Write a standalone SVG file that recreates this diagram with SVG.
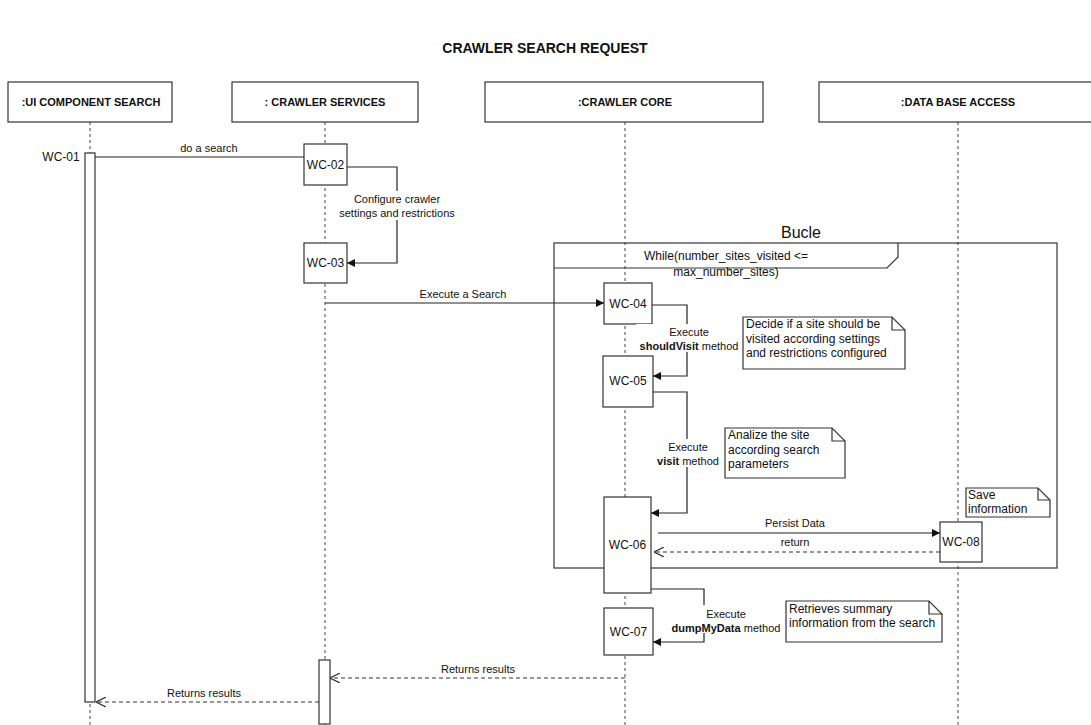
<svg xmlns="http://www.w3.org/2000/svg" width="1091" height="725" viewBox="0 0 1091 725">
  <style>
    text { font-family: "Liberation Sans", Arial, sans-serif; fill: #111; }
    .title { font-size: 14px; font-weight: bold; text-anchor: middle; }
    .hdr { font-size: 11px; font-weight: bold; text-anchor: middle; }
    .box { fill: #fff; stroke: #333; stroke-width: 1.2; }
    .life { fill: none; stroke: #444; stroke-width: 1; stroke-dasharray: 3 3; }
    .msg { fill: none; stroke: #222; stroke-width: 1.2; }
    .ret { fill: none; stroke: #333; stroke-width: 1.1; stroke-dasharray: 4 3; }
    .lbl { font-size: 11px; text-anchor: middle; }
    .act { font-size: 12px; text-anchor: middle; }
    .note { font-size: 12px; }
    .frame { fill: none; stroke: #333; stroke-width: 1.2; }
    .mask { fill: #fff; stroke: none; }
  </style>
  <defs>
    <marker id="fa" viewBox="0 0 10 10" refX="10" refY="5" markerWidth="9" markerHeight="8" markerUnits="userSpaceOnUse" orient="auto">
      <path d="M0,0 L10,5 L0,10 Z" fill="#111"/>
    </marker>
    <marker id="oa" viewBox="0 0 10 10" refX="10" refY="5" markerWidth="10" markerHeight="10" markerUnits="userSpaceOnUse" orient="auto">
      <path d="M0,0 L10,5 L0,10" fill="none" stroke="#333" stroke-width="1.2"/>
    </marker>
  </defs>

  <rect width="1091" height="725" fill="#fff"/>
  <text class="title" x="545" y="53">CRAWLER SEARCH REQUEST</text>

  <!-- lifelines -->
  <g id="lifelines">
    <line class="life" x1="90" y1="122" x2="90" y2="725"/>
    <line class="life" x1="325" y1="122" x2="325" y2="725"/>
    <line class="life" x1="625" y1="122" x2="625" y2="725"/>
    <line class="life" x1="958" y1="122" x2="958" y2="725"/>
  </g>

  <!-- lifeline headers -->
  <g id="ui-component-search">
    <rect class="box" x="8" y="82" width="164" height="40"/>
    <text class="hdr" x="91" y="106">:UI COMPONENT SEARCH</text>
  </g>
  <g id="crawler-services">
    <rect class="box" x="232" y="82" width="186" height="40"/>
    <text class="hdr" x="325" y="106">: CRAWLER SERVICES</text>
  </g>
  <g id="crawler-core">
    <rect class="box" x="485" y="82" width="278" height="40"/>
    <text class="hdr" x="625" y="106">:CRAWLER CORE</text>
  </g>
  <g id="data-base-access">
    <rect class="box" x="819" y="82" width="278" height="40"/>
    <text class="hdr" x="958" y="106">:DATA BASE ACCESS</text>
  </g>

  <!-- loop fragment -->
  <g id="loop-frame">
    <text x="801" y="238" font-size="16" text-anchor="middle">Bucle</text>
    <rect class="frame" x="554" y="243" width="503" height="325"/>
    <path class="frame" d="M554,268 H887 L898,257 V243"/>
    <text x="726" y="260" font-size="12" text-anchor="middle">While(number_sites_visited &lt;=</text>
    <text x="726" y="276" font-size="12" text-anchor="middle">max_number_sites)</text>
  </g>

  <!-- activations -->
  <g id="wc-01">
    <rect class="box" x="85" y="153" width="10" height="549"/>
    <text class="act" x="61" y="161">WC-01</text>
  </g>
  <g id="wc-02">
    <rect class="box" x="304" y="144" width="43" height="41"/>
    <text class="act" x="325.5" y="169">WC-02</text>
  </g>
  <g id="wc-03">
    <rect class="box" x="304" y="243" width="43" height="40"/>
    <text class="act" x="325.5" y="267">WC-03</text>
  </g>
  <g id="wc-04">
    <rect class="box" x="604" y="283" width="48" height="41"/>
    <text class="act" x="628" y="308">WC-04</text>
  </g>
  <g id="wc-05">
    <rect class="box" x="603" y="356" width="50" height="51"/>
    <text class="act" x="628" y="385">WC-05</text>
  </g>
  <g id="wc-06">
    <rect class="box" x="604" y="497" width="47" height="96"/>
    <text class="act" x="627.5" y="549">WC-06</text>
  </g>
  <g id="wc-07">
    <rect class="box" x="604" y="608" width="49" height="47"/>
    <text class="act" x="628.5" y="636">WC-07</text>
  </g>
  <g id="wc-08">
    <rect class="box" x="940" y="522" width="42" height="40"/>
    <text class="act" x="961" y="546">WC-08</text>
  </g>
  <g id="services-return">
    <rect class="box" x="319" y="660" width="11" height="64"/>
  </g>

  <!-- messages -->
  <g id="connectors">
    <path class="msg" d="M95,157 H304"/>
    <text class="lbl" x="209" y="152">do a search</text>

    <path class="msg" d="M347,167 H397 V263 H347" marker-end="url(#fa)"/>
    <rect class="mask" x="342" y="191" width="112" height="29"/>
    <text class="lbl" x="397" y="203">Configure crawler</text>
    <text class="lbl" x="397" y="217">settings and restrictions</text>

    <path class="msg" d="M325,303 H604" marker-end="url(#fa)"/>
    <text class="lbl" x="463" y="298">Execute  a Search</text>

    <path class="msg" d="M652,305 H687 V376 H653" marker-end="url(#fa)"/>
    <rect class="mask" x="636" y="324" width="106" height="28"/>
    <text class="lbl" x="689" y="336">Execute</text>
    <text class="lbl" x="689" y="350"><tspan font-weight="bold">shouldVisit</tspan> method</text>

    <path class="msg" d="M653,392 H687 V513 H651" marker-end="url(#fa)"/>
    <rect class="mask" x="656" y="439" width="66" height="28"/>
    <text class="lbl" x="688" y="451">Execute</text>
    <text class="lbl" x="688" y="465"><tspan font-weight="bold">visit</tspan> method</text>

    <path class="msg" d="M658,533 H940" marker-end="url(#fa)"/>
    <text class="lbl" x="795" y="527">Persist Data</text>
    <path class="ret" d="M940,552 H654" marker-end="url(#oa)"/>
    <text class="lbl" x="795" y="546">return</text>

    <path class="msg" d="M651,589 H704 V642 H653" marker-end="url(#fa)"/>
    <rect class="mask" x="670" y="605" width="112" height="28"/>
    <text class="lbl" x="726" y="618">Execute</text>
    <text class="lbl" x="726" y="632"><tspan font-weight="bold">dumpMyData</tspan> method</text>

    <path class="ret" d="M625,678 H330" marker-end="url(#oa)"/>
    <text class="lbl" x="478" y="673">Returns results</text>
    <path class="ret" d="M319,702 H96" marker-end="url(#oa)"/>
    <text class="lbl" x="204" y="697">Returns results</text>
  </g>

  <!-- notes -->
  <g id="note-should-visit">
    <path class="box" d="M743,317 H892 L905,330 V369 H743 Z"/>
    <path class="frame" d="M892,317 V330 H905"/>
    <text class="note" x="746" y="328">Decide if a site should be</text>
    <text class="note" x="746" y="343">visited  according settings</text>
    <text class="note" x="746" y="357">and restrictions configured</text>
  </g>
  <g id="note-visit">
    <path class="box" d="M725,428 H832 L845,441 V478 H725 Z"/>
    <path class="frame" d="M832,428 V441 H845"/>
    <text class="note" x="728" y="439">Analize the site</text>
    <text class="note" x="728" y="454">according search</text>
    <text class="note" x="728" y="468">parameters</text>
  </g>
  <g id="note-save">
    <path class="box" d="M966,488 H1038 L1050,500 V517 H966 Z"/>
    <path class="frame" d="M1038,488 V500 H1050"/>
    <text class="note" x="968" y="499">Save</text>
    <text class="note" x="968" y="513">information</text>
  </g>
  <g id="note-dump">
    <path class="box" d="M786,601 H929 L942,614 V642 H786 Z"/>
    <path class="frame" d="M929,601 V614 H942"/>
    <text class="note" x="789" y="613">Retrieves summary</text>
    <text class="note" x="789" y="627">information from the search</text>
  </g>
</svg>
